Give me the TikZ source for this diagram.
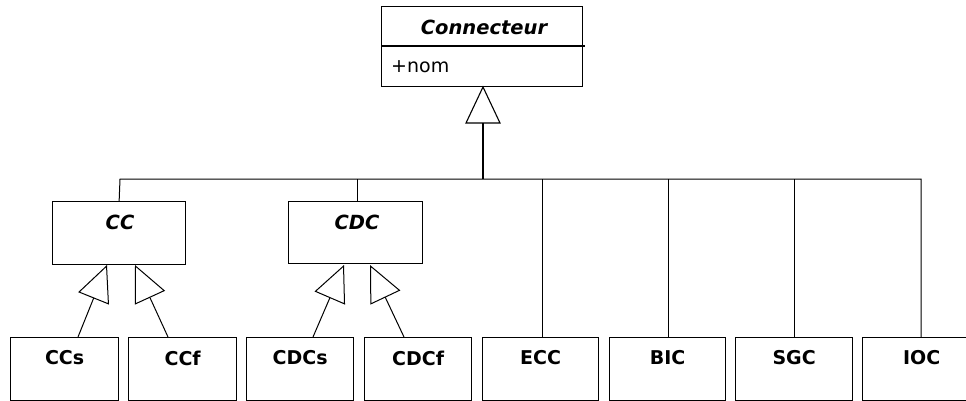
\documentclass[tikz,border=0pt]{standalone}
\usepackage{fontspec}
\setmainfont{DejaVu Sans}
\usetikzlibrary{arrows.meta}
\begin{document}
\begin{tikzpicture}[x=1pt,y=-1pt,
  box/.style={draw,line width=1.3pt,rectangle,inner sep=0pt,anchor=north west},
  lbl/.style={font=\fontsize{19}{21}\selectfont\bfseries,inner sep=0pt},
  ilbl/.style={font=\fontsize{19.5}{21}\selectfont\bfseries\itshape,inner sep=0pt},
  conn/.style={line width=1pt},
  gen/.style={line width=1pt,-{Triangle[open,length=36pt,width=33pt,line width=1pt]}}]
\useasboundingbox (0,0) rectangle (966,401);
\clip (0,0) rectangle (966,401);
% Top class
\node[box,minimum width=201pt,minimum height=80pt] (con) at (381,6) {};
\draw[line width=1.2pt] (381,46) -- (585,46);
\node[ilbl] (cont) at (484,27) {Connecteur};
\node[font=\fontsize{19}{21}\selectfont,inner sep=0pt,anchor=west] (nom) at (391,67) {+nom};
% Middle classes
\node[box,minimum width=133pt,minimum height=63pt] (cc) at (52,201) {};
\node[ilbl] (cct) at (120,222) {CC};
\node[box,minimum width=134pt,minimum height=62pt] (cdc) at (288,201) {};
\node[ilbl] (cdct) at (357,222) {CDC};
% Bottom classes
\foreach \n/\x/\w/\t in {ccs/10/108/CCs, ccf/128/108/CCf, cdcs/246/107/CDCs, cdcf/364/107/CDCf, ecc/482/116/ECC, bic/609/116/BIC, sgc/735/117/SGC, ioc/862/118/IOC}{
  \node[box,minimum width=\w pt,minimum height=62.5pt] (\n) at (\x,337) {};
  \node[lbl] (\n t) at ([yshift=-21pt]\n.north) {\t};
}
% Bus
\coordinate (bus) at (483,179);
\coordinate (busL) at (120,179);
\coordinate (busR) at (921,179);
\draw[conn] (cc.north) -- (busL) -- (busR) -- (921,337);
\draw[line width=2pt] (bus) -- (483,123);
\draw[line width=1.1pt] (483,123) -- (466,123) -- (483,87) -- (500,123) -- cycle;
\draw[conn] (357,179) -- (357,201);
\draw[conn] (542,179) -- (542,337);
\draw[conn] (668,179) -- (668,337);
\draw[conn] (794,179) -- (794,337);
% Sub generalisations
\draw[gen] (78,337) -- (107,265);
\draw[gen] (168,337) -- (135,265);
\draw[gen] (313,337) -- (344,265);
\draw[gen] (404,337) -- (370,265);
\end{tikzpicture}
\end{document}
